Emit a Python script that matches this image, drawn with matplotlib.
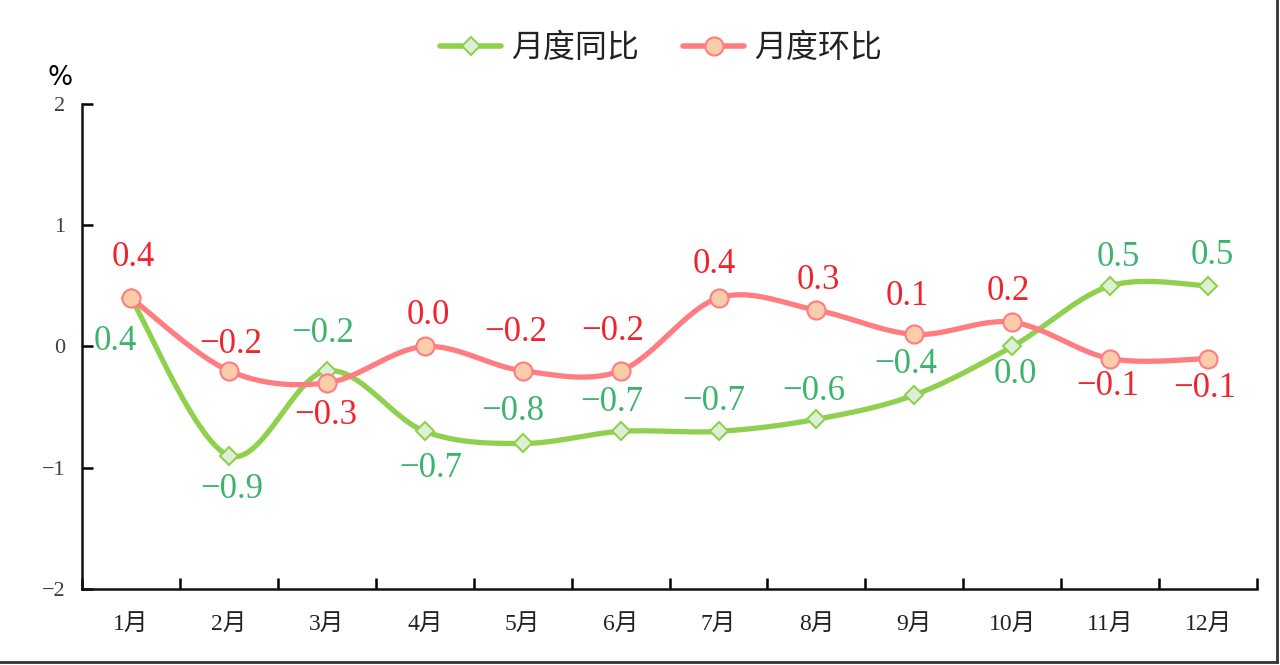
import numpy as np
import matplotlib.pyplot as plt
from matplotlib.lines import Line2D

# Data
months = ['1月', '2月', '3月', '4月', '5月', '6月',
          '7月', '8月', '9月', '10月', '11月', '12月']
yoy = [0.4, -0.9, -0.2, -0.7, -0.8, -0.7, -0.7, -0.6, -0.4, 0.0, 0.5, 0.5]
mom = [0.4, -0.2, -0.3, 0.0, -0.2, -0.2, 0.4, 0.3, 0.1, 0.2, -0.1, -0.1]
y_ticks = [-2, -1, 0, 1, 2]

# label offsets in pixels (dx right, dy down) from the point, layout only
yoy_off = [(-16, 44), (3, 34), (-4, -37), (6, 37), (-10, -32), (-9, -29),
           (-5, -30), (-3, -28), (-9, -30), (3, 28), (8, -28), (4, -30)]
mom_off = [(2, -40), (2, -26), (-1, 33), (4, -31), (-7, -38), (-8, -39),
           (-4, -33), (2, -30), (-7, -38), (-4, -31), (-2, 28), (-3, 30)]

GREEN = '#8FD14F'
GREEN_TXT = '#3DB46D'
RED = '#FF7C80'
RED_TXT = '#F0242C'


def smooth(x, y, n=30):
    # Catmull-Rom style smoothing like office charts
    x = np.asarray(x, float)
    y = np.asarray(y, float)
    xs, ys = [], []
    for i in range(len(x) - 1):
        p0 = i - 1 if i > 0 else i
        p3 = i + 2 if i + 2 < len(x) else i + 1
        c1x = x[i] + (x[i + 1] - x[p0]) / 6
        c1y = y[i] + (y[i + 1] - y[p0]) / 6
        c2x = x[i + 1] - (x[p3] - x[i]) / 6
        c2y = y[i + 1] - (y[p3] - y[i]) / 6
        t = np.linspace(0, 1, n)
        b0 = (1 - t) ** 3
        b1 = 3 * (1 - t) ** 2 * t
        b2 = 3 * (1 - t) * t ** 2
        b3 = t ** 3
        xs.append(b0 * x[i] + b1 * c1x + b2 * c2x + b3 * x[i + 1])
        ys.append(b0 * y[i] + b1 * c1y + b2 * c2y + b3 * y[i + 1])
    return np.concatenate(xs), np.concatenate(ys)


def fmt(v):
    return f'{v:.1f}'.replace('-', '−')


serif = ['Liberation Serif', 'Noto Sans CJK SC']
cjk = ['Noto Sans CJK SC', 'DejaVu Sans']

fig = plt.figure(figsize=(12.8, 6.65), dpi=100)
ax = fig.add_axes([0.0641, 0.1143, 0.9180, 0.7293])

x = np.arange(len(months))

sx, sy = smooth(x, yoy)
ax.plot(sx, sy, color=GREEN, lw=3.8, solid_capstyle='round', zorder=2)
ax.plot(x, yoy, ls='none', marker='D', ms=9, mfc='#DDEFD5', mec=GREEN,
        mew=1.5, zorder=3)

sx, sy = smooth(x, mom)
ax.plot(sx, sy, color=RED, lw=3.8, solid_capstyle='round', zorder=4)
ax.plot(x, mom, ls='none', marker='o', ms=13, mfc='#F9CCAA', mec=RED,
        mew=1.5, zorder=5)

for i in range(len(months)):
    ax.annotate(fmt(yoy[i]), (x[i], yoy[i]),
                xytext=(yoy_off[i][0] * 0.72, -yoy_off[i][1] * 0.72),
                textcoords='offset points', ha='center', va='center',
                fontsize=25, color=GREEN_TXT, family=serif, zorder=6)
    ax.annotate(fmt(mom[i]), (x[i], mom[i]),
                xytext=(mom_off[i][0] * 0.72, -mom_off[i][1] * 0.72),
                textcoords='offset points', ha='center', va='center',
                fontsize=25, color=RED_TXT, family=serif, zorder=6)

ax.set_xlim(-0.5, len(months) - 0.5)
ax.set_ylim(-2, 2)
ax.set_yticks(y_ticks)
ax.set_yticklabels([str(v).replace('-', '−') for v in y_ticks],
                   family=serif, fontsize=16, color='#404040')
ax.set_xticks(x)
ax.set_xticklabels(months, family=serif, fontsize=17, color='#222222')
ax.set_xticks(np.arange(-0.5, len(months)), minor=True)
ax.tick_params(axis='x', which='major', length=0, pad=18)
ax.tick_params(axis='x', which='minor', direction='in', length=8, width=1.8)
ax.tick_params(axis='y', direction='in', length=8, width=1.8, pad=12)

for s in ['top', 'right']:
    ax.spines[s].set_visible(False)
for s in ['left', 'bottom']:
    ax.spines[s].set_linewidth(1.8)
    ax.spines[s].set_color('#111111')

ax.text(60 / 1280, 1 - 78 / 665, '%', transform=fig.transFigure,
        fontsize=19, family='DejaVu Sans', ha='center', va='center')

handles = [
    Line2D([], [], color=GREEN, lw=4, marker='D', ms=9, mfc='#DDEFD5',
           mec=GREEN, mew=1.5, solid_capstyle='round'),
    Line2D([], [], color=RED, lw=4, marker='o', ms=13, mfc='#F9CCAA',
           mec=RED, mew=1.5, solid_capstyle='round'),
]
fig.legend(handles, ['月度同比', '月度环比'], loc='center',
           bbox_to_anchor=(661 / 1280, 1 - 48 / 665), ncol=2, frameon=False,
           prop={'family': cjk, 'size': 23}, handlelength=1.9,
           columnspacing=1.4, handletextpad=0.3, labelcolor='#222222')

# screenshot frame on the right and bottom edges
fig.add_artist(Line2D([0.9977, 0.9977], [0.004, 1.0], color='#333333',
                      lw=2, transform=fig.transFigure))
fig.add_artist(Line2D([0.0, 0.9977], [0.004, 0.004], color='#333333',
                      lw=2, transform=fig.transFigure))

fig.savefig('out.png', dpi=100)
